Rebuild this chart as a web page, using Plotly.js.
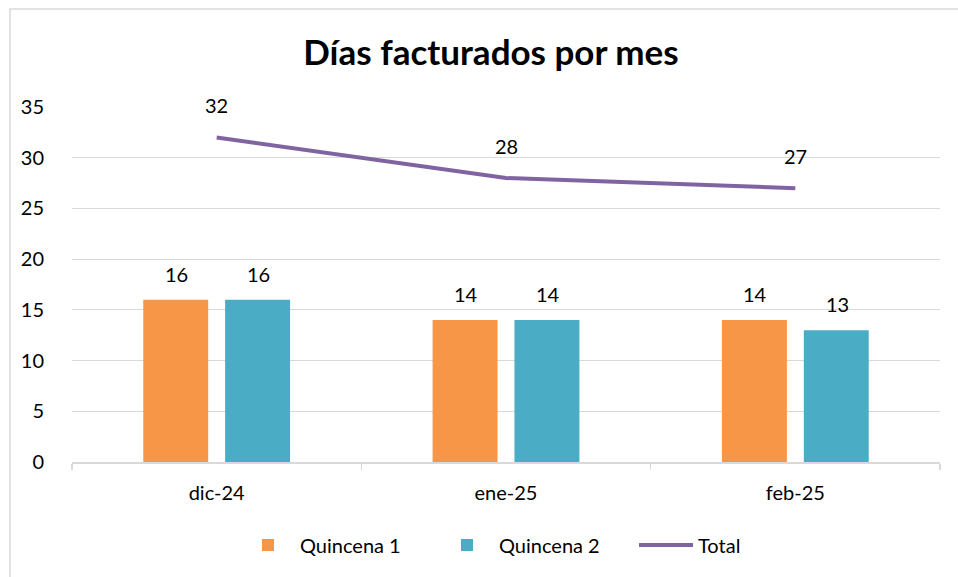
<!DOCTYPE html>
<html><head><meta charset="utf-8">
<script src="https://cdn.plot.ly/plotly-3.0.1.min.js"></script>
<style>html,body{margin:0;padding:0;background:#fff}#chart{width:958px;height:577px}</style>
</head><body><div id="chart"></div>
<script>
const categories = ["dic-24", "ene-25", "feb-25"];
const quincena1 = [16, 14, 14];
const quincena2 = [16, 14, 13];
const total = [32, 28, 27];
const seriesNames = ["Quincena 1", "Quincena 2", "Total"];

const FONT = "Lato, 'Open Sans', sans-serif";
const FS = 20;
const traces = [
  {type: "bar", name: seriesNames[0], x: categories, y: quincena1, marker: {color: "#F79646"}, hoverinfo: "y"},
  {type: "bar", name: seriesNames[1], x: categories, y: quincena2, marker: {color: "#4BACC6"}, hoverinfo: "y"},
  {type: "scatter", mode: "lines", name: seriesNames[2], x: categories, y: total, line: {color: "#8064A2", width: 4}}
];

const annotations = [];
categories.forEach((c, i) => {
  annotations.push({x: c, y: quincena1[i], text: String(quincena1[i]), showarrow: false, xshift: -40, yshift: 26, font: {family: FONT, size: FS, color: "#000"}});
  annotations.push({x: c, y: quincena2[i], text: String(quincena2[i]), showarrow: false, xshift: 42, yshift: 26, font: {family: FONT, size: FS, color: "#000"}});
  annotations.push({x: c, y: total[i], text: String(total[i]), showarrow: false, yshift: 32, font: {family: FONT, size: FS, color: "#000"}});
});

const layout = {
  width: 958, height: 577,
  margin: {l: 72, r: 18, t: 107, b: 115},
  paper_bgcolor: "#fff", plot_bgcolor: "#fff",
  font: {family: FONT, size: FS, color: "#000"},
  title: {text: "<b>Días facturados por mes</b>", font: {family: FONT, size: 35, color: "#000"}, x: 491/958, xanchor: "center", xref: "container", y: 1 - 53/577, yanchor: "middle", yref: "container"},
  barmode: "group", bargap: 0.434, bargroupgap: 0.207,
  xaxis: {type: "category", range: [-0.5, 2.5], showline: true, linecolor: "#d9d9d9", linewidth: 1.5, ticks: "outside", tickson: "boundaries", ticklen: 6, tickcolor: "#d9d9d9", tickwidth: 1.5, showgrid: false, ticklabelstandoff: 12, tickfont: {family: FONT, size: FS, color: "#000"}, fixedrange: true},
  yaxis: {range: [0, 35], dtick: 5, showgrid: true, gridcolor: "#d9d9d9", gridwidth: 1, zeroline: false, showline: false, ticks: "", ticklabelstandoff: 27, tickfont: {family: FONT, size: FS, color: "#000"}, fixedrange: true},
  legend: {orientation: "h", x: (236 - 72) / 868, xanchor: "left", y: -0.234, yanchor: "middle", font: {family: FONT, size: FS, color: "#000"}, itemwidth: 54, entrywidth: 130, entrywidthmode: "pixels", tracegroupgap: 0},
  showlegend: true,
  annotations: annotations,
  shapes: [{type: "rect", xref: "paper", yref: "paper", x0: -0.0714, x1: 1.03, y0: -0.34, y1: 1.276, line: {color: "#d9d9d9", width: 1.5}, fillcolor: "rgba(0,0,0,0)", layer: "below"}]
};

Plotly.newPlot("chart", traces, layout, {displayModeBar: false, staticPlot: true});
</script></body></html>
